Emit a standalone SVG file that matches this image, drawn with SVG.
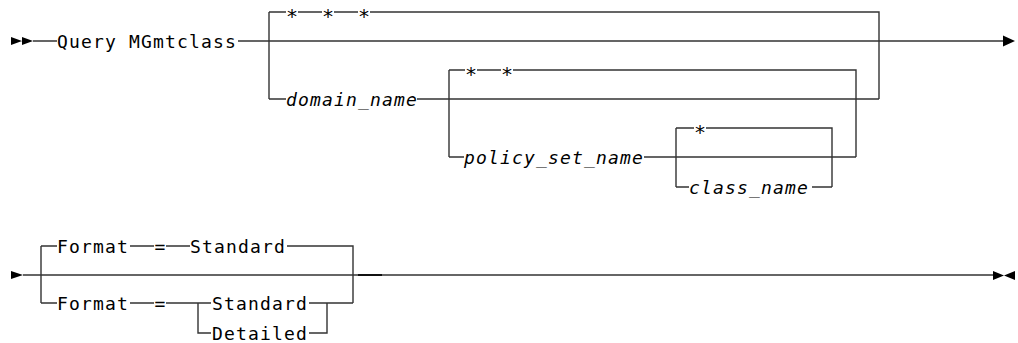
<svg xmlns="http://www.w3.org/2000/svg" width="1018" height="343" viewBox="0 0 1018 343">
<style>
.t{font-family:"DejaVu Sans Mono","Liberation Mono",monospace;font-size:18px;letter-spacing:1.16px;fill:#000}
.i{font-style:italic}
.s{font-family:"DejaVu Sans Mono","Liberation Mono",monospace;font-size:20px;fill:#000;text-anchor:middle}
.e{font-family:"DejaVu Sans Mono","Liberation Mono",monospace;font-size:18px;fill:#000;text-anchor:middle}
.c{fill:none;stroke:#333;stroke-width:1.4}
.a{fill:#000}
</style>
<rect width="1018" height="343" fill="#fff"/>
<g id="connectors">
<path class="c" d="M33 41H57M238 41H1004"/>
<path class="c" d="M269 12V99M269 12H286M298 12H322M334 12H358M370 12H879V99M269 99H286M417 99H879"/>
<path class="c" d="M449 70V157M449 70H465M477 70H501M513 70H856V157M449 157H464M644 157H856"/>
<path class="c" d="M676 128V187M676 128H694M706 128H832V187M676 187H689M812 187H832"/>
<path class="c" d="M23 275H993"/>
<path stroke="#111" stroke-width="2" d="M358 275H382"/>
<path class="c" d="M41 246V303M41 246H57M130 246H154M166 246H190M287 246H353V303M41 303H57M130 303H154M166 303H211M198 303V333H211M309 303H353M309 333H327V303"/>
</g>
<g id="start1"><path class="a" d="M11 37L22 41L11 45ZM22 37L33 41L22 45Z"/></g>
<g id="end1"><path class="a" d="M1003 35.5L1015 41L1003 46.5Z"/></g>
<g id="query-mgmtclass"><text class="t" x="57" y="47.5">Query MGmtclass</text></g>
<g id="stars1"><text class="s" x="292" y="22.5">*</text><text class="s" x="328" y="22.5">*</text><text class="s" x="364" y="22.5">*</text></g>
<g id="domain_name"><text class="t i" x="286" y="105.5">domain_name</text></g>
<g id="stars2"><text class="s" x="471" y="80.5">*</text><text class="s" x="507" y="80.5">*</text></g>
<g id="policy_set_name"><text class="t i" x="464" y="163.5">policy_set_name</text></g>
<g id="stars3"><text class="s" x="700" y="138.5">*</text></g>
<g id="class_name"><text class="t i" x="689" y="193.5">class_name</text></g>
<g id="start2"><path class="a" d="M11 271L23 275L11 279Z"/></g>
<g id="end2"><path class="a" d="M993 271L1004 275.5L993 280ZM1015 271L1004 275.5L1015 280Z"/></g>
<g id="format-default"><text class="t" x="57" y="252.5">Format</text><text class="e" x="160" y="252.5">=</text><text class="t" x="190" y="252.5">Standard</text></g>
<g id="format-choice"><text class="t" x="57" y="309.5">Format</text><text class="e" x="160" y="309.5">=</text><text class="t" x="212" y="309.5">Standard</text><text class="t" x="212" y="339.5">Detailed</text></g>
</svg>
